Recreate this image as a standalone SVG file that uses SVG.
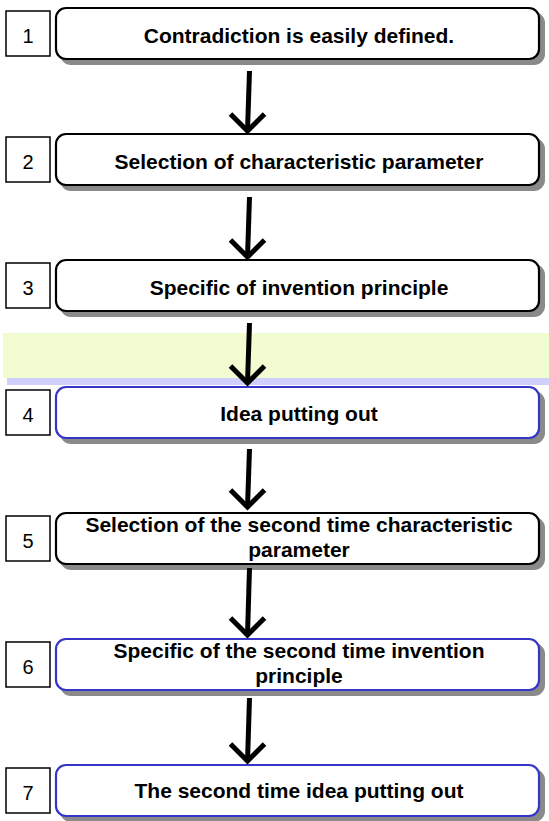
<svg xmlns="http://www.w3.org/2000/svg" width="549" height="821" viewBox="0 0 549 821">
<style>
.shadow{fill:#8a8a8a;stroke:#8a8a8a;stroke-width:2}
.box{fill:#ffffff;stroke:#000000;stroke-width:2.2}
.blue{stroke:#3535c8}
.num{fill:#ffffff;stroke:#000000;stroke-width:1.5}
.numt{font-family:"Liberation Sans",Arial,sans-serif;font-size:20px;fill:#000;text-anchor:middle}
.lbl{font-family:"Liberation Sans",Arial,sans-serif;font-size:21px;font-weight:bold;fill:#000;text-anchor:middle}
.arr{fill:none;stroke:#000000;stroke-width:5;stroke-linecap:butt;stroke-linejoin:miter}
</style>
<rect x="0" y="0" width="549" height="821" fill="#ffffff"/>
<rect x="3" y="333" width="546" height="45" fill="#f1fcd0"/>
<rect x="7" y="378" width="542" height="7" fill="#d0d0fc"/>

<g id="node1">
<rect class="num" x="6" y="11" width="44" height="45"/>
<text class="numt" x="28" y="43">1</text>
<rect class="shadow" x="61" y="13" width="483" height="51" rx="10"/>
<rect class="box" x="56" y="8" width="483" height="51" rx="10"/>
<text class="lbl" x="299" y="43">Contradiction is easily defined.</text>
</g>
<g id="node2">
<rect class="num" x="6" y="137" width="44" height="45"/>
<text class="numt" x="28" y="169">2</text>
<rect class="shadow" x="61" y="139" width="483" height="51" rx="10"/>
<rect class="box" x="56" y="134" width="483" height="51" rx="10"/>
<text class="lbl" x="299" y="169">Selection of characteristic parameter</text>
</g>
<g id="node3">
<rect class="num" x="6" y="263" width="44" height="45"/>
<text class="numt" x="28" y="295">3</text>
<rect class="shadow" x="61" y="265" width="483" height="51" rx="10"/>
<rect class="box" x="56" y="260" width="483" height="51" rx="10"/>
<text class="lbl" x="299" y="295">Specific of invention principle</text>
</g>
<g id="node4">
<rect class="num" x="6" y="390" width="44" height="45"/>
<text class="numt" x="28" y="422">4</text>
<rect class="shadow" x="61" y="392" width="483" height="51" rx="10"/>
<rect class="box blue" x="56" y="387" width="483" height="51" rx="10"/>
<text class="lbl" x="299" y="421">Idea putting out</text>
</g>
<g id="node5">
<rect class="num" x="6" y="516" width="44" height="45"/>
<text class="numt" x="28" y="548">5</text>
<rect class="shadow" x="61" y="518" width="483" height="51" rx="10"/>
<rect class="box" x="56" y="513" width="483" height="51" rx="10"/>
<text class="lbl" x="299" y="532">Selection of the second time characteristic</text>
<text class="lbl" x="299" y="557">parameter</text>
</g>
<g id="node6">
<rect class="num" x="6" y="642" width="44" height="45"/>
<text class="numt" x="28" y="674">6</text>
<rect class="shadow" x="61" y="644" width="483" height="51" rx="10"/>
<rect class="box blue" x="56" y="639" width="483" height="51" rx="10"/>
<text class="lbl" x="299" y="658">Specific of the second time invention</text>
<text class="lbl" x="299" y="683">principle</text>
</g>
<g id="node7">
<rect class="num" x="6" y="768" width="44" height="45"/>
<text class="numt" x="28" y="800">7</text>
<rect class="shadow" x="61" y="770" width="483" height="51" rx="10"/>
<rect class="box blue" x="56" y="765" width="483" height="51" rx="10"/>
<text class="lbl" x="299" y="798">The second time idea putting out</text>
</g>

<g id="connectors">
<path class="arr" d="M249.5 71 L247.5 131"/>
<path class="arr" d="M230.5 114 L247.5 131 L264.5 114"/>
<path class="arr" d="M249.5 197 L247.5 257"/>
<path class="arr" d="M230.5 240 L247.5 257 L264.5 240"/>
<path class="arr" d="M249.5 323 L247.5 383"/>
<path class="arr" d="M230.5 366 L247.5 383 L264.5 366"/>
<path class="arr" d="M249.5 449 L247.5 507"/>
<path class="arr" d="M230.5 490 L247.5 507 L264.5 490"/>
<path class="arr" d="M249.5 568 L247.5 635"/>
<path class="arr" d="M230.5 618 L247.5 635 L264.5 618"/>
<path class="arr" d="M249.5 698 L247.5 761"/>
<path class="arr" d="M230.5 744 L247.5 761 L264.5 744"/>
</g>
</svg>
